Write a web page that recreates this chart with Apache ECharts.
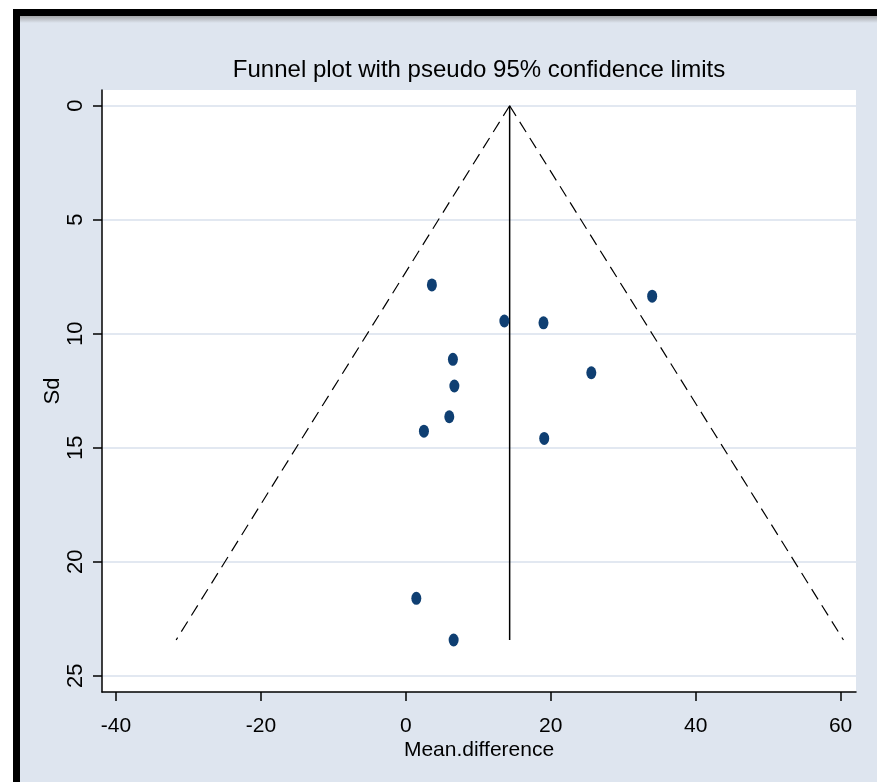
<!DOCTYPE html>
<html>
<head>
<meta charset="utf-8">
<script src="https://cdn.jsdelivr.net/npm/echarts@6/dist/echarts.min.js"></script>
<style>
html,body{margin:0;padding:0;background:#fff;}
#chart{width:877px;height:782px;}
</style>
</head>
<body>
<div id="chart"></div>
<script>
// ---- data ----
const meanDifference = [3.6, 34.0, 13.6, 19.0, 6.5, 25.6, 6.7, 6.0, 2.5, 19.1, 1.45, 6.6];
const sdValues       = [7.86, 8.35, 9.44, 9.52, 11.12, 11.71, 12.29, 13.64, 14.27, 14.59, 21.6, 23.43];
const pooledLine     = [[14.33, 0], [14.33, 23.43]];
const funnelLeft     = [[14.33, 0], [-31.7, 23.43]];
const funnelRight    = [[14.33, 0], [60.4, 23.43]];
const xTicks = [-40, -20, 0, 20, 40, 60];
const yTicks = [0, 5, 10, 15, 20, 25];
const titleText = 'Funnel plot with pseudo 95% confidence limits';
const xName = 'Mean.difference';
const yName = 'Sd';

const font = "'Liberation Sans', Arial, sans-serif";
const bg = '#dee5ef';

const points = meanDifference.map((x, i) => [x, sdValues[i]]);

const chart = echarts.init(document.getElementById('chart'), null, {renderer: 'canvas'});
chart.setOption({
  animation: false,
  backgroundColor: '#ffffff',
  graphic: [
    {type: 'rect', z: -100, silent: true, shape: {x: 20, y: 16, width: 857, height: 766}, style: {fill: bg}},
    {type: 'rect', z: -99, silent: true, shape: {x: 20, y: 16, width: 857, height: 7},
      style: {fill: new echarts.graphic.LinearGradient(0, 0, 0, 1, [{offset: 0, color: '#a4a6a9'}, {offset: 1, color: bg}])}},
    {type: 'rect', z: -98, silent: true, shape: {x: 13, y: 9, width: 864, height: 7}, style: {fill: '#000'}},
    {type: 'rect', z: -98, silent: true, shape: {x: 13, y: 9, width: 7, height: 773}, style: {fill: '#000'}}
  ],
  title: {
    text: titleText,
    left: 479, top: 58, textAlign: 'center', padding: 0,
    textStyle: {fontSize: 24, fontWeight: 'normal', color: '#000', fontFamily: font}
  },
  grid: {left: 102, right: 21, top: 90, bottom: 90, show: true, backgroundColor: '#ffffff', borderWidth: 0, containLabel: false},
  xAxis: {
    type: 'value', min: -41.93, max: 62.13,
    name: xName, nameLocation: 'middle', nameGap: 48, nameMoveOverlap: false,
    nameTextStyle: {fontSize: 21, fontFamily: font, color: '#000'},
    axisLine: {show: true, onZero: false, lineStyle: {color: '#000', width: 1.5}},
    axisTick: {show: true, length: 9, customValues: xTicks, lineStyle: {color: '#000', width: 1.5}},
    axisLabel: {customValues: xTicks, fontSize: 21, fontFamily: font, color: '#000', margin: 24},
    splitLine: {show: false}
  },
  yAxis: {
    type: 'value', inverse: true, min: -0.69, max: 25.71,
    name: yName, nameLocation: 'middle', nameGap: 38, nameMoveOverlap: false,
    nameTextStyle: {fontSize: 22, fontFamily: font, color: '#000'},
    axisLine: {show: true, onZero: false, lineStyle: {color: '#000', width: 1.5}},
    axisTick: {show: true, length: 9, customValues: yTicks, lineStyle: {color: '#000', width: 1.5}},
    axisLabel: {customValues: yTicks, rotate: 90, fontSize: 22, fontFamily: font, color: '#000', margin: 15},
    splitLine: {show: true, lineStyle: {color: '#d9e1ed', width: 1.5}}
  },
  series: [
    {type: 'line', data: funnelLeft, symbol: 'none', silent: true, z: 2,
      lineStyle: {color: '#000', width: 1.2, type: [12, 7]}},
    {type: 'line', data: funnelRight, symbol: 'none', silent: true, z: 2,
      lineStyle: {color: '#000', width: 1.2, type: [12, 7]}},
    {type: 'line', data: pooledLine, symbol: 'none', silent: true, z: 2,
      lineStyle: {color: '#000', width: 1.5}},
    {type: 'scatter', data: points, symbol: 'circle', symbolSize: [10, 13], z: 3,
      itemStyle: {color: '#0f3f72', opacity: 1}}
  ]
});
</script>
</body>
</html>
